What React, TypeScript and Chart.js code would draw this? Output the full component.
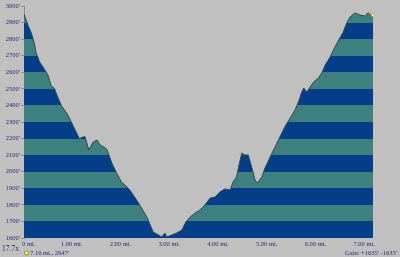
import React, { useEffect, useRef } from "react";
import { Chart, registerables } from "chart.js";

Chart.register(...registerables);

const distanceMi = [
  0.0, 0.08, 0.15, 0.21, 0.25, 0.32, 0.39, 0.49, 0.56, 0.62, 0.7, 0.77, 0.83, 0.9, 0.97,
  1.07, 1.14, 1.17, 1.25, 1.33, 1.42, 1.5, 1.56, 1.64, 1.7, 1.8, 1.9, 2.0, 2.07, 2.17,
  2.24, 2.35, 2.41, 2.52, 2.59, 2.65, 2.76, 2.83, 2.89, 2.93, 3.03, 3.13, 3.24, 3.32,
  3.41, 3.51, 3.61, 3.71, 3.82, 3.92, 4.02, 4.12, 4.23, 4.29, 4.36, 4.42, 4.47, 4.53,
  4.6, 4.67, 4.74, 4.79, 4.88, 4.94, 5.05, 5.15, 5.25, 5.35, 5.46, 5.56, 5.63, 5.7,
  5.74, 5.8, 5.87, 5.94, 6.04, 6.11, 6.18, 6.28, 6.38, 6.48, 6.55, 6.62, 6.69, 6.79,
  6.89, 6.99, 7.06, 7.11, 7.16,
];

const elevationFt = [
  2950, 2886, 2837, 2777, 2716, 2662, 2632, 2584, 2517, 2505, 2445, 2397, 2373, 2342, 2300,
  2240, 2197, 2205, 2212, 2131, 2180, 2191, 2161, 2149, 2135, 2053, 1992, 1938, 1920, 1890,
  1860, 1811, 1781, 1727, 1678, 1636, 1618, 1606, 1630, 1606, 1618, 1630, 1648, 1697,
  1727, 1751, 1769, 1799, 1841, 1847, 1878, 1896, 1890, 1938, 1968, 2053, 2113, 2101,
  2101, 2028, 1950, 1932, 1968, 2020, 2089, 2149, 2210, 2270, 2324, 2373, 2421, 2481,
  2505, 2481, 2511, 2541, 2566, 2596, 2644, 2692, 2753, 2807, 2843, 2898, 2934, 2958,
  2946, 2940, 2958, 2946, 2947,
];

const xTickValues = [0, 1, 2, 3, 4, 5, 6, 7];
const xTickLabels = ["0 mi.", "1.00 mi.", "2.00 mi.", "3.00 mi.", "4.00 mi.", "5.00 mi.", "6.00 mi.", "7.00 mi."];
const yMin = 1600;
const yMax = 3000;
const bandStep = 100;

const zoomText = "17.7x";
const cursorText = "7.16 mi., 2947'";
const gainText = "Gain: +1635' -1635'";

const BG = "#c0c0c0";
const DARK = "#053e88";
const TEAL = "#3e7f80";
const TEXT = "#2a2a78";
const FONT = "Liberation Serif";

export default function App() {
  const ref = useRef<HTMLCanvasElement | null>(null);

  useEffect(() => {
    if (!ref.current) return;

    const bandFill = (ctx: any) => {
      const chart = ctx.chart;
      const area = chart.chartArea;
      const ys = chart.scales && chart.scales.y;
      if (!area || !ys) return DARK;
      const y0 = ys.getPixelForValue(yMin);
      const y1 = ys.getPixelForValue(yMax);
      const g = chart.ctx.createLinearGradient(0, y0, 0, y1);
      const n = Math.round((yMax - yMin) / bandStep);
      for (let k = 0; k < n; k++) {
        const c = k % 2 === 0 ? DARK : TEAL;
        g.addColorStop(k / n, c);
        g.addColorStop((k + 1) / n, c);
      }
      return g;
    };

    const textPlugin = {
      id: "extraText",
      afterDraw(chart: any) {
        const c = chart.ctx;
        const xs = chart.scales.x;
        c.save();
        c.fillStyle = TEXT;
        c.font = `6.5px "${FONT}"`;
        c.textBaseline = "middle";
        xTickValues.forEach((v, i) => {
          const px = xs.getPixelForValue(v);
          if (i === 0) {
            c.textAlign = "left";
            c.fillText(xTickLabels[i], px - 2, 244);
          } else {
            c.textAlign = "center";
            c.fillText(xTickLabels[i], px - 1, 244);
          }
        });
        c.textAlign = "left";
        c.font = `7.5px "${FONT}"`;
        c.fillText(zoomText, 2, 249);
        c.font = `6.5px "${FONT}"`;
        c.fillText(cursorText, 30, 253);
        c.fillText(gainText, 345, 253);
        c.beginPath();
        c.arc(26.5, 253, 2, 0, Math.PI * 2);
        c.fillStyle = "#ffff66";
        c.fill();
        c.strokeStyle = "#8a8a20";
        c.lineWidth = 1;
        c.stroke();
        c.restore();
      },
    };

    const last = distanceMi.length - 1;
    const chart = new Chart(ref.current, {
      type: "line",
      data: {
        datasets: [
          {
            data: distanceMi.map((d, i) => ({ x: d, y: elevationFt[i] })),
            borderColor: "#2c4848",
            borderWidth: 1,
            backgroundColor: bandFill,
            fill: "start",
            tension: 0,
            pointRadius: (ctx: any) => (ctx.dataIndex === last ? 2 : 0),
            pointBackgroundColor: "#ffff80",
            pointBorderColor: "#9a9a30",
            pointBorderWidth: 1,
          },
        ],
      },
      options: {
        animation: false,
        responsive: false,
        maintainAspectRatio: false,
        layout: { padding: { top: 6, right: 27, left: 0, bottom: 0 } },
        plugins: {
          legend: { display: false },
          tooltip: { enabled: false },
        },
        scales: {
          x: {
            type: "linear",
            min: 0,
            max: 7.16,
            ticks: { display: false },
            grid: { display: false },
            border: { display: false },
            afterFit: (s: any) => {
              s.height = 19;
            },
          },
          y: {
            min: yMin,
            max: yMax,
            ticks: {
              stepSize: bandStep,
              autoSkip: false,
              padding: 1,
              color: TEXT,
              font: { family: FONT, size: 6.5 },
              callback: (v: any) => `${v}'`,
            },
            grid: {
              drawOnChartArea: false,
              drawTicks: true,
              tickLength: 3,
              color: "#8c8c8c",
            },
            border: { display: true, color: "#8c8c8c" },
            afterFit: (s: any) => {
              s.width = 24;
            },
          },
        },
      },
      plugins: [textPlugin],
    });

    return () => chart.destroy();
  }, []);

  return (
    <div style={{ position: "absolute", left: 0, top: 0, width: 400, height: 257, background: BG, overflow: "hidden" }}>
      <canvas ref={ref} width={400} height={257} style={{ display: "block" }} />
    </div>
  );
}
